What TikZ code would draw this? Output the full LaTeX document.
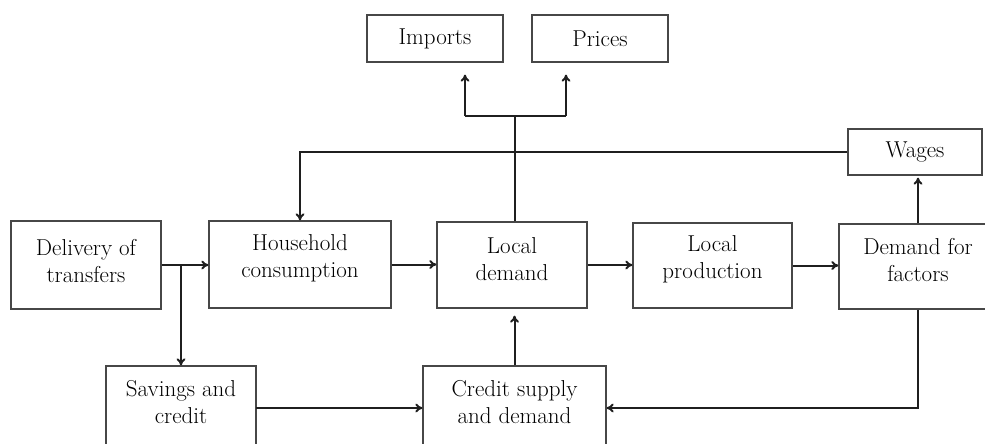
\documentclass[tikz,border=0pt]{standalone}
\usetikzlibrary{arrows.meta}
\begin{document}
\begin{tikzpicture}[x=1pt,y=-1pt,
  box/.style={draw=black!72, line width=1.3pt, inner sep=0pt, align=center,
              font=\fontsize{23}{27}\selectfont},
  txt/.style={inner sep=0pt, align=center, font=\fontsize{23}{27}\selectfont},
  conn/.style={draw=black!88, line width=2pt},
  arr/.style={conn, -{To[length=7pt,width=9pt]}}]
\useasboundingbox (0,0) rectangle (985,444);
\clip (0,0) rectangle (985,444);
% boxes
\node[box, minimum width=136pt, minimum height=47pt] (imp) at (435,38.5) {Imports};
\node[box, minimum width=136pt, minimum height=47pt] (pri) at (600,38.5) {Prices};
\node[box, minimum width=134pt, minimum height=46pt] (wag) at (915,152) {Wages};
\node[box, minimum width=150pt, minimum height=88pt] (del) at (86,265) {};
\node[box, minimum width=182pt, minimum height=87pt] (hh) at (300,264.5) {};
\node[box, minimum width=150pt, minimum height=86pt] (ld) at (512,265) {};
\node[box, minimum width=159pt, minimum height=85pt] (lp) at (712.5,265.5) {};
\node[box, minimum width=158pt, minimum height=85pt] (df) at (918,266.5) {};
\node[box, minimum width=150pt, minimum height=88pt] (sav) at (181,410) {};
\node[box, minimum width=183pt, minimum height=88pt] (cre) at (514.5,410) {};
% texts
\node[txt] (tdel) at ([yshift=4pt]del.center) {Delivery of\\transfers};
\node[txt] (thh) at ([yshift=6pt]hh.center) {Household\\consumption};
\node[txt] (tld) at ([yshift=6pt]ld.center) {Local\\demand};
\node[txt] (tlp) at ([yshift=6pt]lp.center) {Local\\production};
\node[txt] (tdf) at ([yshift=6pt]df.center) {Demand for\\factors};
\node[txt] (tsav) at ([yshift=8pt]sav.center) {Savings and\\credit};
\node[txt] (tcre) at ([yshift=8pt]cre.center) {Credit supply\\and demand};
% coordinates
\coordinate (br) at (181,265);
\coordinate (stem) at (515,116);
\coordinate (bl) at (465,116);
\coordinate (brr) at (566,116);
\coordinate (loop) at (918,408);
\coordinate (sc) at (256,408);
% connectors
\draw[arr] (del.east) -- (hh.west |- del.east);
\draw[arr] (br) -- (sav.north);
\draw[arr] (hh.east) -- (hh.east -| ld.west);
\draw[arr] (ld.east) -- (ld.east -| lp.west);
\draw[arr] (lp.east) -- (lp.east -| df.west);
\draw[arr, shorten >=2pt] (df.north) -- (df.north |- wag.south);
\draw[arr] (wag.west) -- (wag.west -| hh.north) -- (hh.north);
\draw[conn] (stem |- ld.north) -- (stem);
\draw[conn] (bl) -- (brr);
\draw[arr, shorten >=12pt] (bl) -- (bl |- imp.south);
\draw[arr, shorten >=12pt] (brr) -- (brr |- pri.south);
\draw[arr, shorten >=7pt] (cre.north) -- (cre.north |- ld.south);
\draw[arr] (sc) -- (sc -| cre.west);
\draw[arr] (df.south) -- (loop) -- (loop -| cre.east);
\end{tikzpicture}
\end{document}
